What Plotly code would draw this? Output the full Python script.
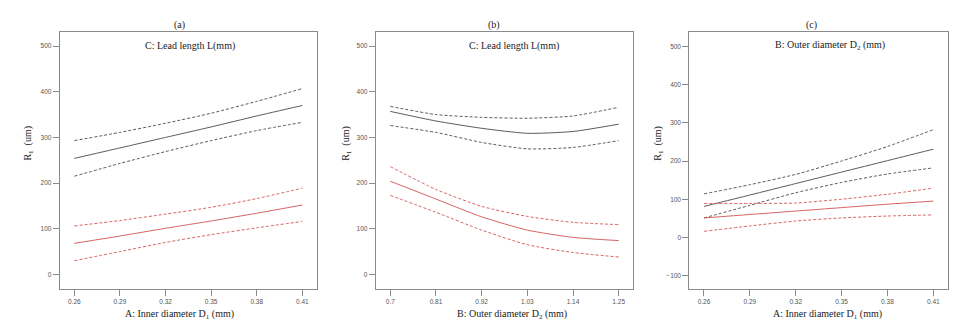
import plotly.graph_objects as go

# ---------------- data ----------------
x_a = [0.26, 0.29, 0.32, 0.35, 0.38, 0.41]
a_black_mid = [254, 277, 300, 323, 347, 370]
a_black_up = [293, 311, 331, 353, 379, 407]
a_black_lo = [215, 243, 269, 293, 315, 333]
a_red_mid = [68, 84, 101, 117, 134, 152]
a_red_up = [106, 118, 132, 147, 166, 189]
a_red_lo = [30, 50, 70, 87, 102, 116]

x_b = [0.7, 0.81, 0.92, 1.03, 1.14, 1.25]
b_black_mid = [357, 336, 320, 309, 313, 329]
b_black_up = [368, 350, 344, 342, 347, 366]
b_black_lo = [326, 311, 289, 275, 278, 293]
b_red_mid = [204, 165, 126, 97, 81, 74]
b_red_up = [236, 186, 149, 127, 114, 109]
b_red_lo = [173, 136, 97, 65, 48, 38]

x_c = [0.26, 0.29, 0.32, 0.35, 0.38, 0.41]
c_black_mid = [81, 111, 141, 171, 201, 231]
c_black_up = [114, 138, 165, 200, 238, 282]
c_black_lo = [51, 84, 117, 144, 166, 182]
c_red_mid = [51, 60, 69, 78, 87, 95]
c_red_up = [89, 89, 90, 100, 113, 129]
c_red_lo = [16, 30, 43, 51, 56, 59]

ticks_a = ["0.26", "0.29", "0.32", "0.35", "0.38", "0.41"]
ticks_b = ["0.7", "0.81", "0.92", "1.03", "1.14", "1.25"]
ticks_c = ["0.26", "0.29", "0.32", "0.35", "0.38", "0.41"]

panel_titles = ["(a)", "(b)", "(c)"]
inner_labels = ["C: Lead length L(mm)", "C: Lead length L(mm)", "B: Outer diameter D<sub>2</sub> (mm)"]
x_titles = ["A: Inner diameter D<sub>1</sub> (mm)", "B: Outer diameter D<sub>2</sub> (mm)",
            "A: Inner diameter D<sub>1</sub> (mm)"]
y_title = "R<sub>1</sub>  (um)"

# ---------------- figure ----------------
W, H = 957, 329
BLACK = "#4a4a4a"
RED = "#d25252"
SERIF = "Liberation Serif"
SANS = "Liberation Sans"

fig = go.Figure()

panels = [
    (x_a, [a_black_up, a_black_mid, a_black_lo, a_red_up, a_red_mid, a_red_lo], ticks_a),
    (x_b, [b_black_up, b_black_mid, b_black_lo, b_red_up, b_red_mid, b_red_lo], ticks_b),
    (x_c, [c_black_up, c_black_mid, c_black_lo, c_red_up, c_red_mid, c_red_lo], ticks_c),
]

px_left = [51.7, 367.7, 681.3]
px_right = [309.0, 625.3, 940.0]
px_top, px_bot = 23.5, 281.0
y_ranges = [[-32, 532], [-32, 532], [-135, 539]]
y_ticks = [[0, 100, 200, 300, 400, 500], [0, 100, 200, 300, 400, 500],
           [-100, 0, 100, 200, 300, 400, 500]]
title_x = [0.4675, 0.458, 0.473]
inner_x = [0.506, 0.537, 0.544]
xt_x = [0.4675, 0.528, 0.534]
yt_x = [-0.123, -0.114, -0.12]

annotations = []
for i, (xs, series, tlabels) in enumerate(panels):
    suffix = "" if i == 0 else str(i + 1)
    xa = "x" + suffix
    ya = "y" + suffix
    styles = [(BLACK, "dash"), (BLACK, "solid"), (BLACK, "dash"),
              (RED, "dash"), (RED, "solid"), (RED, "dash")]
    for ys, (col, dash) in zip(series, styles):
        fig.add_trace(go.Scatter(x=xs, y=ys, mode="lines", xaxis=xa, yaxis=ya,
                                 line=dict(color=col, width=0.9,
                                           dash="solid" if dash == "solid" else "3px,2px",
                                           shape="spline", smoothing=0.6),
                                 showlegend=False, hoverinfo="skip"))
    span = xs[-1] - xs[0]
    pad = 0.064 * span
    axis_common = dict(showline=True, linecolor="#8a8a8a", linewidth=1, mirror=True,
                       showgrid=False, zeroline=False, ticks="outside", ticklen=6,
                       tickcolor="#8a8a8a", tickfont=dict(family=SANS, size=6.5, color="#555"))
    fig.layout["xaxis" + suffix] = dict(
        domain=[px_left[i] / W, px_right[i] / W], anchor=ya,
        range=[xs[0] - pad, xs[-1] + pad], tickvals=xs, ticktext=tlabels, **axis_common)
    fig.layout["yaxis" + suffix] = dict(
        domain=[1 - px_bot / H, 1 - px_top / H], anchor=xa,
        range=y_ranges[i], tickvals=y_ticks[i], **axis_common)
    xd = xa + " domain"
    yd = ya + " domain"
    tfont = dict(family=SERIF, size=10, color="#222")
    annotations += [
        dict(text=panel_titles[i], xref=xd, yref=yd, x=title_x[i], y=1.0, yanchor="bottom",
             yshift=-2, showarrow=False, font=tfont),
        dict(text=inner_labels[i], xref=xd, yref=yd, x=inner_x[i], y=0.944, yanchor="middle",
             showarrow=False, font=tfont),
        dict(text=x_titles[i], xref=xd, yref=yd, x=xt_x[i], y=-0.1, yanchor="middle",
             showarrow=False, font=tfont),
        dict(text=y_title, xref=xd, yref=yd, x=yt_x[i], y=0.565, textangle=-90,
             xanchor="center", yanchor="middle",
             showarrow=False, font=tfont),
    ]

fig.update_layout(width=W, height=H, margin=dict(l=0, r=0, t=0, b=0),
                  plot_bgcolor="white", paper_bgcolor="white",
                  annotations=annotations)

fig.write_html("out.html")
